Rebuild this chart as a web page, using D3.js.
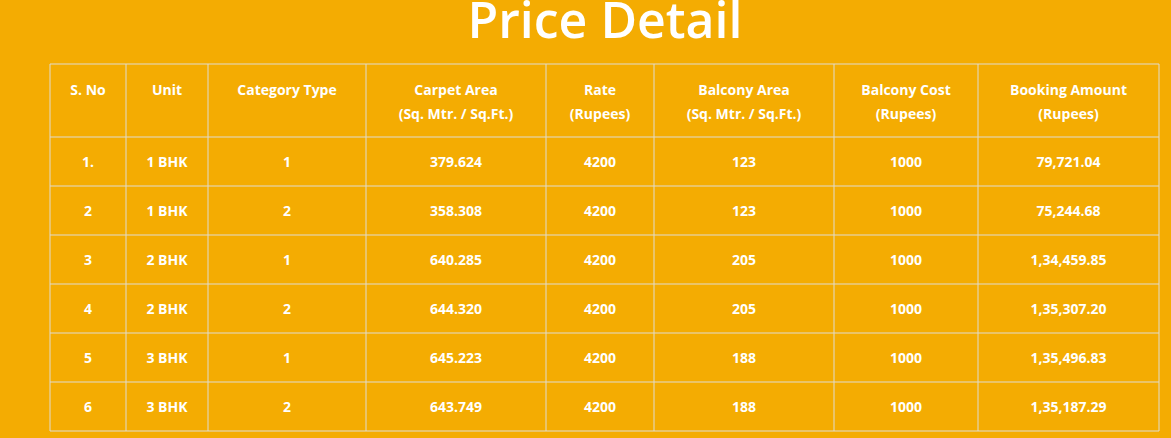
<!DOCTYPE html>
<html><head><meta charset="utf-8">
<script src="https://cdn.jsdelivr.net/npm/d3@7"></script>
<style>body{margin:0;background:#F4AC02;overflow:hidden}</style>
</head><body>
<svg id="c" width="1171" height="438"></svg>
<script>
const title = "Price Detail";
const headers = [["S. No"],["Unit"],["Category Type"],["Carpet Area","(Sq. Mtr. / Sq.Ft.)"],["Rate","(Rupees)"],["Balcony Area","(Sq. Mtr. / Sq.Ft.)"],["Balcony Cost","(Rupees)"],["Booking Amount","(Rupees)"]];
const sno = ["1.","2","3","4","5","6"];
const units = ["1 BHK","1 BHK","2 BHK","2 BHK","3 BHK","3 BHK"];
const categories = ["1","2","1","2","1","2"];
const carpetArea = ["379.624","358.308","640.285","644.320","645.223","643.749"];
const rate = ["4200","4200","4200","4200","4200","4200"];
const balconyArea = ["123","123","205","205","188","188"];
const balconyCost = ["1000","1000","1000","1000","1000","1000"];
const booking = ["79,721.04","75,244.68","1,34,459.85","1,35,307.20","1,35,496.83","1,35,187.29"];

const colEdges = [50,126,208,366,546,654,834,978,1159];
const svg = d3.select("#c");
const font = "'Open Sans','Noto Sans',sans-serif";
svg.append("text").attr("x",605).attr("y",38).attr("text-anchor","middle")
  .attr("fill","#fff").attr("font-family",font).attr("font-weight",600).attr("font-size",50).text(title);
const rows = sno.map((s,i)=>[s,units[i],categories[i],carpetArea[i],rate[i],balconyArea[i],balconyCost[i],booking[i]]);
const y = d3.scaleLinear().domain([0,6]).range([137,431]);
const tableTop = 64;
const g = svg.append("g").attr("font-family",font).attr("font-weight",700).attr("font-size",14).attr("fill","#fff");
const cx = j => (colEdges[j]+colEdges[j+1])/2;
headers.forEach((h,j)=>h.forEach((t,k)=>g.append("text").attr("x",cx(j)).attr("y",95+k*24).attr("text-anchor","middle").text(t)));
rows.forEach((r,i)=>r.forEach((t,j)=>g.append("text").attr("x",cx(j)).attr("y",(y(i)+y(i+1))/2+5).attr("text-anchor","middle").text(t)));
const lc = "#e0dcd0";
colEdges.forEach(x=>svg.append("line").attr("x1",x).attr("x2",x).attr("y1",tableTop).attr("y2",431).attr("stroke",lc));
[tableTop,...d3.range(7).map(y)].forEach(v=>svg.append("line").attr("x1",50).attr("x2",1159).attr("y1",v).attr("y2",v).attr("stroke",lc));
</script></body></html>
